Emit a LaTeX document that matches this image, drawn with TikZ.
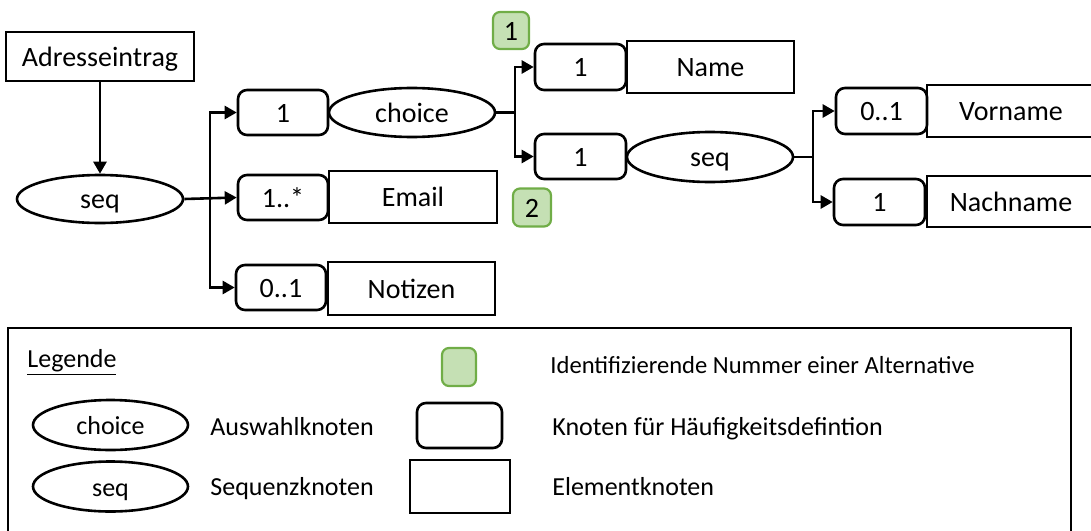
\documentclass[tikz,border=0pt]{standalone}
\usepackage{fontspec}
\setmainfont{Carlito}
\usetikzlibrary{arrows.meta,shapes.geometric}
\definecolor{altfill}{HTML}{C5E0B4}
\definecolor{altdraw}{HTML}{70AD47}
\tikzset{
  base/.style={inner sep=0pt, line width=1.3pt, font=\fontsize{14}{16}\selectfont, text height=9.5pt, text depth=0pt},
  elem/.style={base, draw, rectangle},
  cnt/.style={base, draw, rectangle, rounded corners=4.5pt},
  ell/.style={base, draw, ellipse},
  alt/.style={base, draw=altdraw, fill=altfill, rounded corners=3.5pt, line width=1.1pt},
  arr/.style={line width=1.3pt, -{Triangle[length=6pt,width=6.5pt]}},
  ln/.style={line width=1.3pt},
  legtxt/.style={inner sep=0pt, anchor=base west, font=\fontsize{13}{15}\selectfont},
  legsym/.style={font=\fontsize{13}{15}\selectfont, text height=9.5pt, text depth=0pt}
}
\begin{document}
\begin{tikzpicture}[x=0.5pt,y=-0.5pt]
\useasboundingbox (0,0) rectangle (1091,530);
\clip (0,0) rectangle (1091,530);
% main diagram
\node[elem, minimum width=94pt, minimum height=24.5pt] (adr) at (100,56.5) {Adresseintrag};
\node[ell, minimum width=83pt, minimum height=24pt] (seqA) at (100,199) {seq};
\node[cnt, minimum width=45pt, minimum height=22.5pt] (c0) at (283,112.5) {1};
\node[ell, minimum width=83pt, minimum height=24.5pt] (choice) at (412,112.5) {choice};
\node[cnt, minimum width=45pt, minimum height=22.5pt] (c1) at (283,197.5) {1..*};
\node[elem, minimum width=84pt, minimum height=26pt] (email) at (413,197) {Email};
\node[cnt, minimum width=45pt, minimum height=22.5pt] (c2) at (281,287.5) {0..1};
\node[elem, minimum width=83.5pt, minimum height=26.5pt] (notiz) at (411.5,288.5) {Notizen};
\node[cnt, minimum width=45.5pt, minimum height=23pt] (cName) at (580.5,67) {1};
\node[elem, minimum width=83.5pt, minimum height=26pt] (name) at (710.5,67) {Name};
\node[cnt, minimum width=45.5pt, minimum height=22.5pt] (cSeq) at (580.5,156.5) {1};
\node[ell, minimum width=83pt, minimum height=25pt] (seqB) at (710,157) {seq};
\node[alt, minimum width=18pt, minimum height=18.5pt] (alt1) at (511,30.5) {1};
\node[alt, minimum width=19pt, minimum height=19pt] (alt2) at (532,207.5) {2};
\node[cnt, minimum width=45.5pt, minimum height=23pt] (cVor) at (881.5,111) {0..1};
\node[elem, minimum width=84pt, minimum height=26pt] (vor) at (1011,111) {Vorname};
\node[cnt, minimum width=45.5pt, minimum height=23pt] (cNach) at (879.5,202) {1};
\node[elem, minimum width=84pt, minimum height=25.5pt] (nach) at (1011,201.5) {Nachname};
% connectors
\coordinate (t1) at (210,199);
\coordinate (t2) at (515,112.5);
\coordinate (t3) at (813,157);
\draw[arr] (adr) -- (seqA);
\draw[arr] (seqA.east) -- (c1.west);
\draw[arr] (t1) |- (c0.west);
\draw[arr] (t1) |- (c2.west);
\draw[ln] (choice.east) -- (t2);
\draw[arr] (t2) |- (cName.west);
\draw[arr] (t2) |- (cSeq.west);
\draw[ln] (seqB.east) -- (t3);
\draw[arr] (t3) |- (cVor.west);
\draw[arr] (t3) |- (cNach.west);
% legend
\draw[ln] (8,328) rectangle (1071,540);
\node[legtxt] (leg) at (27,367) {\underline{Legende}};
\node[alt, minimum width=17pt, minimum height=19pt] (lalt) at (459,367) {};
\node[ell, legsym, minimum width=77.5pt, minimum height=25pt] (lchoice) at (110.5,425) {choice};
\node[legtxt] (lauswahl) at (210,435) {Auswahlknoten};
\node[cnt, minimum width=42.5pt, minimum height=22.5pt] (lcnt) at (459.5,425.5) {};
\node[ell, legsym, minimum width=77.5pt, minimum height=25pt] (lseq) at (110.5,486.5) {seq};
\node[legtxt] (lsequenz) at (210,495) {Sequenzknoten};
\node[elem, minimum width=50pt, minimum height=26.5pt] (lelem) at (460,486.5) {};
\node[legtxt, font=\fontsize{12.3}{14}\selectfont] (lident) at (550,373) {Identifizierende Nummer einer Alternative};
\node[legtxt] (lknoten) at (552,435) {Knoten für Häufigkeitsdefintion};
\node[legtxt] (lelemtxt) at (552,495) {Elementknoten};
\end{tikzpicture}
\end{document}
